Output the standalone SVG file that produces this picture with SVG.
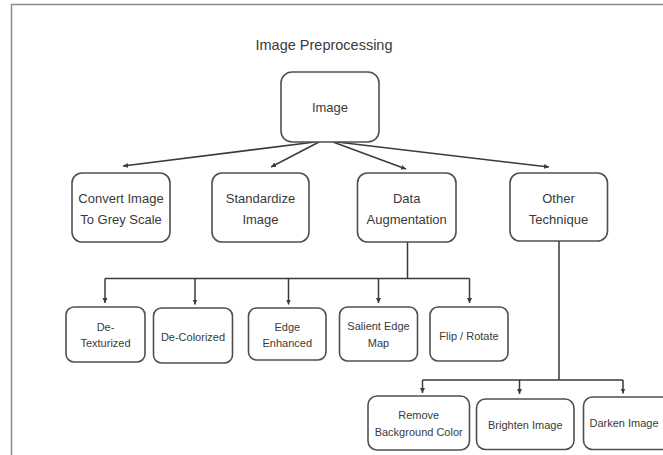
<svg xmlns="http://www.w3.org/2000/svg" width="663" height="455" viewBox="0 0 663 455">
<style>
.box{fill:#fff;stroke:#505050;stroke-width:1.6}
.t{font-family:"Liberation Sans",Arial,sans-serif;fill:#3a3a3a;text-anchor:middle}
.l2{font-size:13px}
.l3{font-size:11px}
.ln{fill:none;stroke:#3a3a3a;stroke-width:1.5}
</style>
<defs>
<marker id="ah" markerWidth="6" markerHeight="6" refX="5" refY="3" orient="auto" markerUnits="userSpaceOnUse">
<path d="M0,0.5 L5,3 L0,5.5 Z" fill="#3a3a3a"/>
</marker>
</defs>
<rect width="663" height="455" fill="#fff"/>
<path d="M11.5,455 V4.5 H663" fill="none" stroke="#8a8a8a" stroke-width="1.5"/>
<text class="t" x="324" y="50" font-size="14.5">Image Preprocessing</text>

<g id="connectors">
<line class="ln" x1="315" y1="142" x2="123" y2="166" marker-end="url(#ah)"/>
<line class="ln" x1="319" y1="142" x2="271" y2="167" marker-end="url(#ah)"/>
<line class="ln" x1="333" y1="142" x2="406" y2="169" marker-end="url(#ah)"/>
<line class="ln" x1="337" y1="142" x2="549" y2="167" marker-end="url(#ah)"/>
<path class="ln" d="M407.5,242 V278.5 M105,278.5 H469.5"/>
<line class="ln" x1="105" y1="278.5" x2="105" y2="303" marker-end="url(#ah)"/>
<line class="ln" x1="195" y1="278.5" x2="195" y2="304.5" marker-end="url(#ah)"/>
<line class="ln" x1="288.5" y1="278.5" x2="288.5" y2="304.5" marker-end="url(#ah)"/>
<line class="ln" x1="378.5" y1="278.5" x2="378.5" y2="303" marker-end="url(#ah)"/>
<line class="ln" x1="469.5" y1="278.5" x2="469.5" y2="303" marker-end="url(#ah)"/>
<path class="ln" d="M559,241 V380 M422.5,380 H623"/>
<line class="ln" x1="422.5" y1="380" x2="422.5" y2="393" marker-end="url(#ah)"/>
<line class="ln" x1="519.5" y1="380" x2="519.5" y2="394" marker-end="url(#ah)"/>
<line class="ln" x1="623" y1="380" x2="623" y2="393.5" marker-end="url(#ah)"/>
</g>

<g id="image"><rect class="box" x="281" y="72" width="98" height="70" rx="11"/>
<text class="t l2" x="330" y="112">Image</text></g>

<g id="convert"><rect class="box" x="72" y="173" width="98" height="69" rx="10"/>
<text class="t l2" x="121" y="202.5">Convert Image</text><text class="t l2" x="121" y="223.5">To Grey Scale</text></g>
<g id="standardize"><rect class="box" x="212" y="173" width="97" height="69" rx="10"/>
<text class="t l2" x="260.5" y="202.5">Standardize</text><text class="t l2" x="260.5" y="223.5">Image</text></g>
<g id="dataaug"><rect class="box" x="357.5" y="173" width="98.5" height="69" rx="10"/>
<text class="t l2" x="406.7" y="202.5">Data</text><text class="t l2" x="406.7" y="223.5">Augmentation</text></g>
<g id="other"><rect class="box" x="510" y="173" width="97.5" height="68" rx="10"/>
<text class="t l2" x="558.5" y="202.5">Other</text><text class="t l2" x="558.5" y="223.5">Technique</text></g>

<g id="detex"><rect class="box" x="66" y="307" width="79" height="55" rx="8"/>
<text class="t l3" x="105.5" y="330.5">De-</text><text class="t l3" x="105.5" y="347">Texturized</text></g>
<g id="decolor"><rect class="box" x="153.5" y="308" width="79" height="55" rx="8"/>
<text class="t l3" x="193" y="340.5">De-Colorized</text></g>
<g id="edge"><rect class="box" x="248.5" y="308" width="77.5" height="52" rx="8"/>
<text class="t l3" x="287.3" y="331">Edge</text><text class="t l3" x="287.3" y="347">Enhanced</text></g>
<g id="salient"><rect class="box" x="339.5" y="307" width="78" height="54" rx="8"/>
<text class="t l3" x="378.5" y="330">Salient Edge</text><text class="t l3" x="378.5" y="347">Map</text></g>
<g id="flip"><rect class="box" x="430" y="307" width="78" height="54" rx="8"/>
<text class="t l3" x="469" y="340">Flip / Rotate</text></g>

<g id="remove"><rect class="box" x="368" y="396" width="101.5" height="54" rx="9"/>
<text class="t l3" x="418.7" y="419">Remove</text><text class="t l3" x="418.7" y="435.5">Background Color</text></g>
<g id="brighten"><rect class="box" x="476.5" y="399" width="97.5" height="50.5" rx="9"/>
<text class="t l3" x="525.3" y="428.5">Brighten Image</text></g>
<g id="darken"><rect class="box" x="583.5" y="397" width="90" height="52.5" rx="9"/>
<text class="t l3" x="624" y="427">Darken Image</text></g>
</svg>
